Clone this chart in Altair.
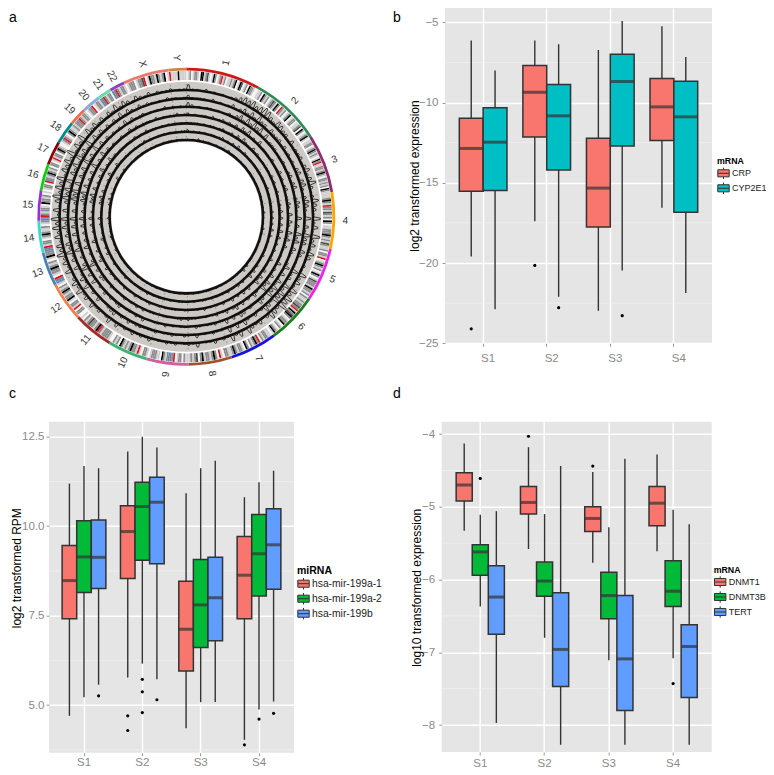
import math
import altair as alt
import pandas as pd

FONT = "Liberation Sans"
SAMPLES = ["S1", "S2", "S3", "S4"]

# ---------- panel a ----------
CHROMS = ["1","2","3","4","5","6","7","8","9","10","11","12","13","14","15","16","17","18","19","20","21","22","X","Y"]
LENGTHS = [249,243,198,191,181,171,159,146,141,135,135,133,115,107,102,90,81,78,59,63,48,51,155,59]
RING_COLORS = ["#CC1A1A","#2E8B57","#8B2E6B","#FFA500","#EE22EE","#1E7B1E","#1414DD","#A0522D","#D060A0","#3CB371",
               "#A52A2A","#F08050","#4682B4","#40D8C8","#9932CC","#11CC11","#8B0000","#008B8B","#EE6A50","#87AEDC",
               "#66DDAA","#9040C0","#E9796A","#CD853F"]
BANDS = [
 "wlgwlgglwkklgdlwlkgwlgrlgwllglgkwlkdwlgwkgglw",
 "wllgwkglgwlgdglkgwrglgwlgkwlggwllgdwkgwlgkl",
 "wllggwlgkglglwlkgrllgglgkglwgglglgwkgl",
 "lllgkglrggldglgwkgwllgggkglgldgl",
 "lgwgglrwlgkglgwlkgwldggglkgglgw",
 "gllglggdgrlkgdkgwlggkwlgwlgkl",
 "wllgglgwrgkglgwgkwlgglgkgl",
 "lggwlrwgkglgglkgwdglgl",
 "llgwgglwrgbbglgkwllggglw",
 "lggwlrlggkglglgkwglgw",
 "wlgggglgrkglggdglgwlw",
 "wggwrlggwlkgglgkglgwl",
 "bbrwlggkglgwlkgg",
 "bbrlggwlgkgllgwlg",
 "bbrglgglwkgglgwl",
 "wlggwrbglgkglgw",
 "ggwlrlggwgkglw",
 "wlgrglwgkgllg",
 "lgggrglggl",
 "wlggrwlggl",
 "bbrglggw",
 "bbrglggl",
 "wlgggwlggdrwlkgglkglgkwl",
 "rllllkllll",
]
BAND_COLORS = {"w":"#F4F4F4","l":"#CFCFCF","g":"#8C8C8C","d":"#4A4A4A","k":"#000000","r":"#E0141C","b":"#6487A8"}
TRACK_BASE = [126.7,118.3,110.0,101.7,93.3,85.0,76.7]
TRACK_VALUES = [
 "5110201010"+"1246574687"+"4265331402"+"2313524731"+"2643172518"+"3526412173"+"5274869357"+"3142361526"+"1203110412"
 +"1021201031"+"2130214152"+"1325142736"+"3162538462"+"6374826158"+"3748264739"+"2638163524"+"1426253142"+"1302112011",
 "3101102010"+"1312425263"+"3142231302"+"1213414521"+"3542161427"+"4415301162"+"3163758246"+"2031251415"+"0112010301"
 +"2012110211"+"1221302143"+"2114031625"+"2051427351"+"4263715147"+"4627153628"+"3527052413"+"0315142031"+"2101021101",
 "4201011010"+"0213526374"+"6151222101"+"2102313410"+"2431050316"+"3504210251"+"4052647135"+"1120340304"+"1021101200"
 +"1101020110"+"0312011032"+"1203120514"+"1740316240"+"5152604036"+"5716042517"+"2416041302"+"1204031120"+"1010201010",
 "2010110201"+"2021314251"+"2040111020"+"0131202301"+"1320414205"+"2413101140"+"2141536024"+"0213142031"+"0210100112"
 +"0210011001"+"1020201021"+"0112013403"+"0631205131"+"3041503125"+"4605131406"+"1305130201"+"2013020111"+"0201010201",
 "1101010110"+"1201203142"+"1031200101"+"1020201210"+"0213130314"+"1302020130"+"1030425113"+"1302031020"+"1010201001"
 +"1001101010"+"0210102011"+"2010212031"+"0420310410"+"2130402014"+"3504020315"+"0214020110"+"1102010201"+"1010101010",
 "2010101011"+"0120102031"+"0210101001"+"0110120101"+"1102020203"+"0201011020"+"1020314002"+"0201020101"+"0101100101"
 +"0110010101"+"0102011010"+"1020101120"+"1030201301"+"0120301003"+"2403010204"+"1013010101"+"0101020100"+"1010101011",
 "1010201010"+"0101102011"+"1010110100"+"1010101101"+"0102010102"+"0101100110"+"0110203101"+"0110101010"+"0110010101"
 +"1010101010"+"0101010101"+"0110101011"+"0120101201"+"0110201002"+"1302010103"+"0102010101"+"1010101010"+"0101101010",
]
BASE_HALF = 1.3
INNER_R, OUTER_R = 75.0, 135.0
IDEO_IN, IDEO_OUT = 136.7, 145.7
RING_IN, RING_OUT = 146.2, 149.0
LABEL_R = 159.0
GENOME = sum(LENGTHS)

starts = [sum(LENGTHS[:i]) for i in range(len(LENGTHS))]
chrom_df = pd.DataFrame({"chrom":CHROMS,"t0":starts,"t1":[s+l for s,l in zip(starts,LENGTHS)],"col":RING_COLORS})

band_rows = []
for s, l, b in zip(starts, LENGTHS, BANDS):
    w = l / len(b)
    for j, c in enumerate(b):
        band_rows.append({"t0":s+j*w,"t1":s+(j+1)*w,"col":BAND_COLORS[c]})
band_df = pd.DataFrame(band_rows)

def pol(t, r):
    a = 2*math.pi*t/GENOME
    return r*math.sin(a), r*math.cos(a)

line_rows = []
for k, (base, vals) in enumerate(zip(TRACK_BASE, TRACK_VALUES)):
    n = len(vals)
    idx = 0
    for i, ch in enumerate(vals):
        r = base + int(ch)*1.05
        for t, rr in ((i, base), (i+0.3, r), (i+0.6, r), (i+0.9, base)):
            x, y = pol(GENOME*t/n, rr)
            line_rows.append({"x":x,"y":y,"track":k,"i":idx})
            idx += 1
line_df = pd.DataFrame(line_rows)

base_df = pd.DataFrame({"r0":[b-BASE_HALF for b in TRACK_BASE],"r1":[b+BASE_HALF for b in TRACK_BASE],
                        "t0":[0]*len(TRACK_BASE),"t1":[GENOME]*len(TRACK_BASE)})

div_rows = []
for s in starts:
    x0, y0 = pol(s, INNER_R); x1, y1 = pol(s, OUTER_R)
    div_rows.append({"x":x0,"y":y0,"x2":x1,"y2":y1})
div_df = pd.DataFrame(div_rows)

lab_rows = []
for s, l, c in zip(starts, LENGTHS, CHROMS):
    mid = s + l/2
    x, y = pol(mid, LABEL_R)
    deg = 360*mid/GENOME
    rot = (deg-90) % 360 if deg <= 180 else (deg+90) % 360
    lab_rows.append({"x":x,"y":y,"label":c,"rot":rot})
lab_df = pd.DataFrame(lab_rows)

A_W, A_H = 360, 378
CX, CY = 178.3, 208.7
xs = alt.Scale(domain=[-CX, A_W-CX], nice=False, zero=False)
ys = alt.Scale(domain=[CY-A_H, CY], nice=False, zero=False)
theta_s = alt.Scale(domain=[0, GENOME], range=[0, 2*math.pi])
center = {"x":alt.value(CX), "y":alt.value(CY)}
X_ = lambda f: alt.X(f, scale=xs, axis=None)
Y_ = lambda f: alt.Y(f, scale=ys, axis=None)

def arc_layer(df, r_out, r_in, fill=None, **kw):
    enc = dict(theta=alt.Theta("t0:Q", scale=theta_s, stack=None), theta2=alt.Theta2("t1"), **center)
    if fill is None:
        enc["fill"] = alt.Fill("col:N", scale=None, legend=None)
        return alt.Chart(df).mark_arc(radius=r_out, radius2=r_in, **kw).encode(**enc)
    return alt.Chart(df).mark_arc(radius=r_out, radius2=r_in, fill=fill, **kw).encode(**enc)

ring = arc_layer(chrom_df, RING_OUT, RING_IN)
ideo = arc_layer(band_df, IDEO_OUT, IDEO_IN)
gray = arc_layer(chrom_df, OUTER_R, INNER_R, fill="#CDC9C4")
r_s = alt.Scale(domain=[0, 170], range=[0, 170], zero=True, nice=False)
bases = alt.Chart(base_df).mark_arc(fill="#111111").encode(
    theta=alt.Theta("t0:Q", scale=theta_s, stack=None), theta2=alt.Theta2("t1"),
    radius=alt.Radius("r1:Q", scale=r_s), radius2=alt.Radius2("r0"), **center)
divs = alt.Chart(div_df).mark_rule(color="#8A8A8A", strokeWidth=0.8, strokeDash=[2,2]).encode(
    x=X_("x:Q"), y=Y_("y:Q"), x2="x2:Q", y2="y2:Q")
lines = alt.Chart(line_df).mark_line(color="#111111", strokeWidth=0.8, clip=False).encode(
    x=X_("x:Q"), y=Y_("y:Q"), detail="track:N", order="i:Q")
labs = alt.Chart(lab_df).mark_text(font=FONT, fontSize=10, color="#333333").encode(
    x=X_("x:Q"), y=Y_("y:Q"), text="label:N", angle=alt.Angle("rot:Q", scale=None))

def letter(ch, x, y):
    return alt.Chart(alt.Data(values=[{"t":ch}])).mark_text(
        font=FONT, fontSize=14, align="left", baseline="top", color="#000000").encode(
        x=alt.value(x), y=alt.value(y), text="t:N")

panel_a = alt.layer(gray, divs, bases, lines, ideo, ring, labs, letter("a", 1, 3)).properties(width=A_W, height=A_H)

# ---------- panel b ----------
B_GENES = ["CRP","CYP2E1"]
B_TOP = [[-6.14,-6.14,-6.72,-5.25],[-8.0,-6.37,-4.92,-7.16]]
B_Q3  = [[-10.98,-7.7,-12.22,-8.5],[-10.33,-8.88,-6.99,-8.67]]
B_MED = [[-12.86,-9.36,-15.33,-10.27],[-12.47,-10.83,-8.69,-10.89]]
B_Q1  = [[-15.52,-12.14,-17.76,-12.37],[-15.48,-14.21,-12.7,-16.83]]
B_LOW = [[-19.59,-17.4,-22.97,-16.56],[-22.88,-22.1,-20.46,-21.87]]
B_OUT = [("S1","CRP",-24.1),("S2","CRP",-20.15),("S2","CYP2E1",-22.78),("S3","CYP2E1",-23.28)]
B_TICKS = [-25,-20,-15,-10,-5]
B_MINOR = [-22.5,-17.5,-12.5,-7.5]

# ---------- panel c ----------
C_GENES = ["hsa-mir-199a-1","hsa-mir-199a-2","hsa-mir-199b"]
C_TOP = [[11.19,12.09,10.92,10.81],[11.68,12.5,11.62,11.23],[11.62,12.2,11.83,11.55]]
C_Q3  = [[9.46,10.57,8.46,9.71],[10.15,11.23,9.07,10.33],[10.17,11.37,9.13,10.49]]
C_MED = [[8.48,9.85,7.12,8.63],[9.14,10.55,7.80,9.23],[9.13,10.67,8.0,9.48]]
C_Q1  = [[7.41,8.54,5.95,7.41],[8.15,9.05,6.61,8.05],[8.26,8.95,6.80,8.24]]
C_LOW = [[4.70,5.77,4.35,4.03],[5.22,6.16,5.08,4.88],[5.57,5.72,5.09,5.10]]
C_OUT = [("S1","hsa-mir-199b",5.26),("S2","hsa-mir-199a-1",4.70),("S2","hsa-mir-199a-1",4.29),
         ("S2","hsa-mir-199a-2",5.72),("S2","hsa-mir-199a-2",5.37),("S2","hsa-mir-199a-2",4.79),
         ("S2","hsa-mir-199b",5.15),("S4","hsa-mir-199a-1",3.89),("S4","hsa-mir-199a-2",4.61),("S4","hsa-mir-199b",4.77)]
C_TICKS = [5.0,7.5,10.0,12.5]
C_MINOR = [3.75,6.25,8.75,11.25]

# ---------- panel d ----------
D_GENES = ["DNMT1","DNMT3B","TERT"]
D_TOP = [[-4.13,-4.18,-4.52,-4.28],[-5.11,-5.10,-5.28,-5.04],[-5.06,-4.44,-4.34,-5.24]]
D_Q3  = [[-4.53,-4.72,-5.0,-4.72],[-5.52,-5.76,-5.90,-5.74],[-5.81,-6.18,-6.22,-6.62]]
D_MED = [[-4.70,-4.94,-5.16,-4.95],[-5.62,-6.02,-6.22,-6.16],[-6.24,-6.96,-7.09,-6.92]]
D_Q1  = [[-4.92,-5.10,-5.34,-5.26],[-5.94,-6.23,-6.54,-6.37],[-6.75,-7.47,-7.80,-7.62]]
D_LOW = [[-5.33,-5.58,-5.77,-5.61],[-6.37,-6.80,-7.11,-7.08],[-7.97,-8.27,-8.27,-8.27]]
D_OUT = [("S1","DNMT3B",-4.61),("S2","DNMT1",-4.03),("S3","DNMT1",-4.44),("S4","DNMT3B",-7.43)]
D_TICKS = [-8,-7,-6,-5,-4]
D_MINOR = [-7.5,-6.5,-5.5,-4.5]

RED, CYAN, GREEN, BLUE = "#F8766D", "#00BFC4", "#00BA38", "#619CFF"
KEY = "M-1,-0.62H1V0.62H-1Z M-1,0H1 M0,-0.62V-1 M0,0.62V1"

def box_panel(genes, colors, top, q3, med, q1, low, out, ticks, minor, domain, w, h, ytitle, title_x, title_y,
              legend_title, leg_x, leg_y, label_size, title_size, row_pad, x_off, x_pad, y_pad, tick_fs, fmt, ltr):
    rows = []
    for g, tt, a, m, b, l in zip(genes, top, q3, med, q1, low):
        for s, v1, v2, v3, v4, v5 in zip(SAMPLES, tt, a, m, b, l):
            rows.append({"sample":s,"gene":g,"top":v1,"q3":v2,"med":v3,"q1":v4,"low":v5})
    df = pd.DataFrame(rows)
    odf = pd.DataFrame(out, columns=["sample","gene","v"])
    mdf = pd.DataFrame({"v":minor})
    ysc = alt.Scale(domain=domain, nice=False, zero=False)
    xax = alt.Axis(title=None, grid=True, gridColor="#FFFFFF", gridWidth=1.4, domain=False, ticks=True, tickColor="#7F7F7F",
                   tickSize=3, tickWidth=0.8, labelAngle=0, labelFont=FONT, labelFontSize=tick_fs, labelColor="#8A8A8A",
                   labelPadding=x_pad, labelOffset=x_off)
    yax = alt.Axis(title=ytitle, values=ticks, grid=True, gridColor="#FFFFFF", gridWidth=1.4, domain=False, tickColor="#7F7F7F",
                   tickSize=3, tickWidth=0.8, labelFont=FONT, labelFontSize=tick_fs, labelColor="#8A8A8A", labelPadding=y_pad,
                   format=fmt, titleFont=FONT, titleFontSize=12, titleFontWeight="normal", titleColor="#000000",
                   titleX=title_x, titleY=title_y, titleBaseline="middle")
    xsc = alt.Scale(domain=SAMPLES, paddingInner=0.25, paddingOuter=0.225)
    X = alt.X("sample:N", scale=xsc, axis=xax)
    XO = alt.XOffset("gene:N", scale=alt.Scale(domain=genes))
    Y = lambda f: alt.Y(f, scale=ysc, axis=yax)
    bw = 0.75 * w / 4.2 / len(genes)
    minor_l = alt.Chart(mdf).mark_rule(color="#F2F2F2", strokeWidth=0.7).encode(y=alt.Y("v:Q", scale=ysc, axis=yax))
    whisk = alt.Chart(df).mark_rule(color="#333333", strokeWidth=1.4).encode(x=X, xOffset=XO, y=Y("low:Q"), y2="top:Q")
    legend = alt.Legend(title=legend_title, orient="none", legendX=leg_x, legendY=leg_y, symbolType=KEY, symbolSize=130,
                        symbolStrokeColor="#333333", symbolStrokeWidth=1, labelFont=FONT, labelFontSize=label_size,
                        labelColor="#222222", titleFont=FONT, titleFontSize=title_size, titleFontWeight="bold",
                        titleColor="#000000", rowPadding=row_pad, labelOffset=2, titlePadding=1)
    box = alt.Chart(df).mark_bar(stroke="#333333", strokeWidth=1.5).encode(
        x=X, xOffset=XO, y=Y("q1:Q"), y2="q3:Q",
        fill=alt.Fill("gene:N", scale=alt.Scale(domain=genes, range=colors), legend=legend))
    meds = alt.Chart(df).mark_tick(color="#333333", thickness=3, size=bw, orient="horizontal").encode(x=X, xOffset=XO, y=Y("med:Q"))
    pts = alt.Chart(odf).mark_circle(color="#000000", size=10, opacity=1).encode(x=X, xOffset=XO, y=Y("v:Q"))
    return alt.layer(minor_l, whisk, box, meds, pts, ltr).properties(
        width=w, height=h, view=alt.ViewConfig(fill="#E5E5E5", stroke=None))

panel_b = box_panel(B_GENES,[RED,CYAN],B_TOP,B_Q3,B_MED,B_Q1,B_LOW,B_OUT,B_TICKS,B_MINOR,[-25,-4.11],267,335.3,
                    "log2 transformed expression",-31,167.5,"mRNA",272,149,9,8.8,-3.5,5,6,4,11.5,"d",letter("b",-52,3))
panel_c = box_panel(C_GENES,[RED,GREEN,BLUE],C_TOP,C_Q3,C_MED,C_Q1,C_LOW,C_OUT,C_TICKS,C_MINOR,[3.67,12.92],245,331,
                    "log2 transformed RPM",-33,146,"miRNA",248,144,10.3,10.5,-4.5,0,1,2,11.5,".1f",letter(" ",0,0))
panel_d = box_panel(D_GENES,[RED,GREEN,BLUE],D_TOP,D_Q3,D_MED,D_Q1,D_LOW,D_OUT,D_TICKS,D_MINOR,[-8.37,-3.83],270,330.3,
                    "log10 transformed expression",-25,165.6,"mRNA",272,144,9,8.8,-3.5,0,2,4,11.5,"d",letter("d",-48.7,-34.7))

spacer_c = letter("c", 1, -34.7).properties(width=1, height=1)

RES = dict(x="independent", y="independent", fill="independent", xOffset="independent")

def row(*charts, spacing):
    return alt.hconcat(*charts, spacing=spacing, bounds="flush").resolve_scale(**RES).resolve_legend(fill="independent")

row1 = row(panel_a, panel_b, spacing=77)
row2 = row(row(spacer_c, panel_c, spacing=40), panel_d, spacing=433.7)

chart = (alt.vconcat(row1, row2, spacing=413.7, bounds="flush")
         .resolve_scale(**RES).resolve_legend(fill="independent")
         .configure_view(stroke=None)
         .properties(autosize=alt.AutoSizeParams(type="none"),
                     padding={"left":0,"top":0,"right":758,"bottom":759}, background="#FFFFFF"))

chart.save("out.html", embed_options={"renderer": "svg", "actions": False})
